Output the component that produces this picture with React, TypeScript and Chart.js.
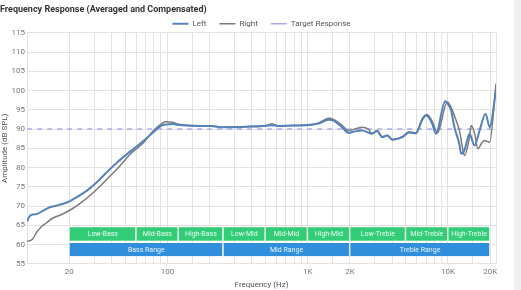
import React, { useEffect, useRef } from "react";
import { Chart, registerables } from "chart.js";

Chart.register(...registerables);

const leftFreq = [10, 10.4, 11, 11.7, 13, 14.5, 16.2, 18.1, 20.2, 22.6, 26.7, 31.4, 37, 44, 54.5, 68, 80, 90, 97, 110, 118, 155, 205, 241, 300, 396, 522, 552, 617, 767, 906, 1070, 1194, 1409, 1530, 1753, 1960, 2174, 2442, 2880, 3129, 3397, 3691, 4010, 4730, 5285, 5893, 6580, 7000, 7700, 8200, 9570, 10000, 10500, 11120, 12070, 12400, 13110, 14250, 15460, 16800, 18550, 19810, 22000];
const leftDb = [66.0, 67.3, 67.8, 67.9, 68.8, 69.7, 70.1, 70.6, 71.3, 72.3, 74.0, 76.2, 78.8, 81.4, 84.2, 87.0, 89.3, 90.8, 91.2, 91.3, 91.1, 90.8, 90.8, 90.5, 90.5, 90.7, 90.9, 91.0, 90.8, 90.9, 90.9, 91.1, 91.4, 92.4, 92.2, 90.5, 89.0, 89.4, 89.6, 88.8, 89.5, 87.9, 88.3, 87.2, 87.9, 89.1, 88.9, 92.5, 93.5, 91.5, 88.8, 97.2, 96.5, 95.0, 90.5, 86.0, 83.6, 84.5, 88.8, 85.7, 89.6, 94.0, 90.5, 100.0];

const rightFreq = [10, 10.5, 11, 11.7, 12.7, 13.7, 15, 18.1, 21, 24.5, 29, 34.5, 40.5, 45, 54.5, 68, 80, 90, 97, 110, 118, 155, 205, 241, 300, 396, 522, 552, 617, 767, 906, 1070, 1194, 1409, 1530, 1753, 1960, 2174, 2442, 2700, 2880, 3129, 3397, 3691, 4010, 4730, 5285, 5893, 6580, 7100, 7800, 8400, 9900, 10500, 11500, 12070, 12800, 13110, 14250, 14630, 15460, 16330, 17500, 18240, 19810, 22000];
const rightDb = [60.9, 61.0, 61.5, 63.2, 64.7, 65.6, 66.7, 68.0, 69.3, 71.0, 73.2, 75.8, 78.4, 80.1, 83.5, 86.6, 89.7, 91.3, 91.9, 91.7, 91.3, 90.9, 90.8, 90.5, 90.6, 90.6, 91.0, 91.4, 90.8, 90.9, 91.0, 91.2, 91.6, 92.8, 92.5, 91.0, 89.6, 90.0, 90.5, 90.0, 88.9, 89.6, 88.0, 88.4, 87.3, 88.0, 89.3, 89.0, 92.8, 93.8, 91.7, 89.0, 97.0, 95.7, 92.0, 89.6, 84.5, 83.1, 88.0, 90.9, 89.0, 84.9, 86.5, 87.0, 86.6, 101.8];

const targetFreq = [10, 22000];
const targetDb = [90, 90];

const xTickLabels: Record<number, string> = { 20: "20", 100: "100", 1000: "1K", 2000: "2K", 10000: "10K", 20000: "20K" };
const yTicks = [55, 60, 65, 70, 75, 80, 85, 90, 95, 100, 105, 110, 115];

const subBandNames = ["Low-Bass", "Mid-Bass", "High-Bass", "Low-Mid", "Mid-Mid", "High-Mid", "Low-Treble", "Mid-Treble", "High-Treble"];
const subBandStart = [20, 60, 120, 250, 500, 1000, 2000, 5000, 10000];
const subBandEnd = [60, 120, 250, 500, 1000, 2000, 5000, 10000, 20000];
const rangeBandNames = ["Bass Range", "Mid Range", "Treble Range"];
const rangeBandStart = [20, 250, 2000];
const rangeBandEnd = [250, 2000, 20000];
const subBandDb = [61, 64.5];
const rangeBandDb = [57, 60.4];

const FONT = "Roboto, 'Open Sans', sans-serif";

const bandsPlugin = {
  id: "bands",
  afterDatasetsDraw(chart: any) {
    const { ctx, scales } = chart;
    const xs = scales.x;
    const ys = scales.y;
    const drawRow = (names: string[], starts: number[], ends: number[], db: number[], color: string) => {
      const top = ys.getPixelForValue(db[1]);
      const bottom = ys.getPixelForValue(db[0]);
      names.forEach((name, i) => {
        const x0 = xs.getPixelForValue(starts[i]);
        const x1 = xs.getPixelForValue(ends[i]);
        ctx.save();
        ctx.fillStyle = color;
        ctx.fillRect(x0 + 0.5, top, x1 - x0 - 1.5, bottom - top);
        ctx.fillStyle = "rgba(255,255,255,0.9)";
        ctx.font = `7px ${FONT}`;
        ctx.textAlign = "center";
        ctx.textBaseline = "middle";
        ctx.fillText(name, (x0 + x1) / 2, (top + bottom) / 2 + 0.5);
        ctx.restore();
      });
    };
    drawRow(subBandNames, subBandStart, subBandEnd, subBandDb, "#33cc77");
    drawRow(rangeBandNames, rangeBandStart, rangeBandEnd, rangeBandDb, "#2f8fdc");
  },
};

const LEGEND_TRIM = 5;

const legendFitPlugin = {
  id: "legendFit",
  afterInit(chart: any) {
    const lg = chart.legend;
    if (lg && !lg._fitPatched) {
      const orig = lg.fit.bind(lg);
      lg.fit = () => {
        orig();
        lg.height = Math.max(0, lg.height - LEGEND_TRIM);
      };
      lg._fitPatched = true;
    }
  },
  afterLayout(chart: any) {
    const lg = chart.legend;
    if (lg && chart.chartArea) {
      lg.left = chart.chartArea.left;
      lg.bottom = lg.top + lg.height + 20;
      lg.height = lg.height + 20;
    }
  },
};

export default function App() {
  const ref = useRef<HTMLCanvasElement | null>(null);
  useEffect(() => {
    document.body.style.margin = "0";
    if (!ref.current) return;
    const toPts = (xs: number[], ys: number[]) => xs.map((x, i) => ({ x, y: ys[i] }));
    const chart = new Chart(ref.current, {
      type: "line",
      data: {
        datasets: [
          {
            label: "Left",
            data: toPts(leftFreq, leftDb),
            borderColor: "#5582b8",
            backgroundColor: "#5582b8",
            borderWidth: 2,
            pointRadius: 0,
            cubicInterpolationMode: "monotone",
            pointStyle: "line",
          },
          {
            label: "Right",
            data: toPts(rightFreq, rightDb),
            borderColor: "#7c7c7c",
            backgroundColor: "#7c7c7c",
            borderWidth: 1.5,
            pointRadius: 0,
            cubicInterpolationMode: "monotone",
            pointStyle: "line",
          },
          {
            label: "Target Response",
            data: toPts(targetFreq, targetDb),
            borderColor: "#aaaaf0",
            backgroundColor: "#aaaaf0",
            borderWidth: 1.5,
            borderDash: [5, 5],
            pointRadius: 0,
            pointStyle: "line",
          },
        ],
      },
      options: {
        animation: false,
        responsive: true,
        maintainAspectRatio: false,
        layout: { padding: { left: 0, right: 18, top: 0, bottom: 0 } },
        plugins: {
          title: {
            display: true,
            text: "Frequency Response (Averaged and Compensated)",
            align: "start",
            color: "#333",
            font: { family: FONT, size: 9, weight: "bold" },
            padding: { top: 4, bottom: -8 },
          },
          legend: {
            display: true,
            labels: {
              usePointStyle: true,
              pointStyleWidth: 16,
              boxHeight: 6,
              color: "#555",
              font: { family: FONT, size: 8 },
              padding: 13,
            },
          },
          tooltip: { enabled: false },
        },
        scales: {
          x: {
            type: "logarithmic",
            min: 10,
            max: 22000,
            grid: { color: "#e3e3e3", drawTicks: false },
            border: { display: false },
            ticks: {
              autoSkip: false,
              maxRotation: 0,
              padding: 3,
              color: "#777",
              font: { family: FONT, size: 8 },
              callback: (v: any) => xTickLabels[Number(v)] ?? "",
            },
            title: { display: true, text: "Frequency (Hz)", color: "#555", font: { family: FONT, size: 8 }, padding: { top: 1, bottom: 0 } },
          },
          y: {
            min: 55,
            max: 115,
            afterBuildTicks: (axis: any) => {
              axis.ticks = yTicks.map((v) => ({ value: v }));
            },
            grid: { color: "#e3e3e3", drawTicks: false },
            border: { display: false },
            ticks: { color: "#777", font: { family: FONT, size: 8 }, padding: 2 },
            title: { display: true, text: "Amplitude (dB SPL)", color: "#555", font: { family: FONT, size: 8 }, padding: { top: 0, bottom: 0 } },
          },
        },
      },
      plugins: [bandsPlugin, legendFitPlugin],
    } as any);
    return () => chart.destroy();
  }, []);
  return (
    <div style={{ display: "flex", width: 521, height: 290, background: "#fff" }}>
      <div style={{ position: "relative", width: 514, height: 290 }}>
        <canvas ref={ref} />
      </div>
      <div style={{ width: 7, height: 290, background: "#efefef" }} />
    </div>
  );
}
